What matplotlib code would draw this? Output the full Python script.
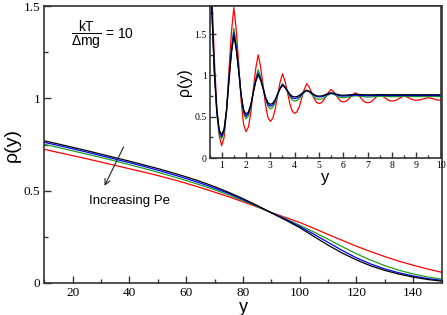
import numpy as np
import matplotlib
matplotlib.use("Agg")
import matplotlib.pyplot as plt
from matplotlib.ticker import MultipleLocator

plt.rcParams['mathtext.fontset'] = 'custom'
plt.rcParams['mathtext.rm'] = 'Liberation Sans'

# main plot: density profile along y
y_main = list(range(10, 151, 5))
rho_red = [.724, .707, .690, .673, .655, .637, .619, .601, .582, .562, .540, .517, .492, .467, .440,
           .412, .382, .355, .328, .296, .263, .231, .199, .170, .143, .118, .096, .076, .058]
rho_green = [.751, .734, .716, .698, .680, .661, .641, .621, .600, .578, .555, .531, .505, .477, .446,
             .415, .381, .348, .313, .276, .237, .197, .158, .124, .094, .069, .049, .033, .021]
rho_blue = [.762, .745, .727, .709, .690, .671, .652, .632, .611, .589, .566, .541, .514, .485, .452,
            .418, .381, .345, .306, .264, .220, .176, .136, .103, .076, .055, .038, .024, .014]
rho_black = [.770, .753, .735, .717, .698, .679, .660, .640, .620, .598, .575, .550, .522, .491, .457,
             .420, .380, .341, .300, .252, .205, .162, .125, .093, .068, .048, .032, .019, .010]

# inset: near-wall structure
y_red = np.round(np.linspace(0.5, 10.0, 96), 1)
ins_red = [2.60, 1.95, 1.20, 0.62, 0.27, 0.15,
           0.25, 0.57, 1.07, 1.52, 1.82,
           1.55, 1.145, 0.695, 0.41, 0.32,
           0.376, 0.553, 0.83, 1.083, 1.25,
           1.105, 0.888, 0.646, 0.493, 0.445,
           0.48, 0.589, 0.761, 0.917, 1.02,
           0.934, 0.804, 0.66, 0.569, 0.54,
           0.562, 0.63, 0.738, 0.835, 0.90,
           0.857, 0.792, 0.72, 0.674, 0.66,
           0.67, 0.703, 0.754, 0.799, 0.83,
           0.803, 0.763, 0.718, 0.689, 0.68,
           0.687, 0.708, 0.74, 0.77, 0.79,
           0.77, 0.736, 0.70, 0.677, 0.67,
           0.676, 0.695, 0.725, 0.752, 0.77,
           0.756, 0.734, 0.71, 0.695, 0.69,
           0.694, 0.705, 0.723, 0.739, 0.75,
           0.741, 0.728, 0.713, 0.703, 0.70,
           0.702, 0.708, 0.717, 0.725, 0.73,
           0.725, 0.717, 0.707, 0.702, 0.70]

y_dark = np.concatenate([np.round(np.linspace(0.5, 6.0, 56), 1),
                         [6.5, 7.0, 7.5, 8.0, 8.5, 9.0, 9.5, 10.0]])
ins_black = [2.40, 1.75, 1.05, 0.58, 0.34, 0.28,
             0.352, 0.58, 0.94, 1.264, 1.48,
             1.309, 1.053, 0.768, 0.587, 0.53,
             0.559, 0.65, 0.794, 0.924, 1.01,
             0.945, 0.848, 0.74, 0.672, 0.65,
             0.664, 0.708, 0.777, 0.839, 0.88,
             0.855, 0.817, 0.775, 0.748, 0.74,
             0.745, 0.76, 0.784, 0.806, 0.82,
             0.807, 0.789, 0.767, 0.754, 0.75,
             0.752, 0.76, 0.772, 0.783, 0.79,
             0.785, 0.776, 0.767, 0.762, 0.76,
             0.772, 0.765, 0.768, 0.766, 0.767, 0.766, 0.767, 0.766]
ins_blue = [2.45, 1.78, 1.05, 0.56, 0.32, 0.26,
            0.336, 0.575, 0.953, 1.293, 1.52,
            1.337, 1.063, 0.759, 0.566, 0.505,
            0.537, 0.636, 0.794, 0.936, 1.03,
            0.957, 0.849, 0.728, 0.651, 0.627,
            0.643, 0.693, 0.772, 0.843, 0.89,
            0.859, 0.814, 0.762, 0.73, 0.72,
            0.726, 0.745, 0.775, 0.802, 0.82,
            0.806, 0.784, 0.76, 0.745, 0.74,
            0.743, 0.751, 0.765, 0.777, 0.785,
            0.779, 0.769, 0.759, 0.752, 0.75,
            0.762, 0.755, 0.759, 0.757, 0.758, 0.757, 0.758, 0.757]
ins_green = [2.50, 1.80, 1.04, 0.53, 0.29, 0.235,
             0.315, 0.569, 0.969, 1.33, 1.57,
             1.373, 1.077, 0.749, 0.541, 0.475,
             0.511, 0.624, 0.802, 0.963, 1.07,
             0.985, 0.856, 0.714, 0.624, 0.595,
             0.613, 0.671, 0.763, 0.845, 0.90,
             0.862, 0.806, 0.743, 0.703, 0.69,
             0.698, 0.723, 0.762, 0.797, 0.82,
             0.800, 0.771, 0.738, 0.717, 0.71,
             0.714, 0.728, 0.749, 0.767, 0.78,
             0.771, 0.758, 0.743, 0.733, 0.73,
             0.755, 0.738, 0.748, 0.743, 0.746, 0.744, 0.745, 0.744]

colors = {'red': '#ff0000', 'green': '#1f9f1f', 'blue': '#0000ff', 'black': '#000000'}
spine_col = '#333333'
serif = 'Liberation Serif'
sans = 'Liberation Sans'


def style_axes(ax, lsize):
    for s in ax.spines.values():
        s.set_color(spine_col)
        s.set_linewidth(1.2)
    ax.tick_params(which='both', direction='in', top=False, right=False,
                   color=spine_col, width=1.0)
    ax.tick_params(which='major', length=5, labelsize=lsize, pad=3)
    ax.tick_params(which='minor', length=3)
    for lab in ax.get_xticklabels() + ax.get_yticklabels():
        lab.set_fontfamily(serif)


fig = plt.figure(figsize=(4.47, 3.15), dpi=100)
ax = fig.add_axes([0.099, 0.1016, 0.889, 0.879])
ax.plot(y_main, rho_red, color=colors['red'], lw=0.9)
ax.plot(y_main, rho_green, color=colors['green'], lw=0.9)
ax.plot(y_main, rho_blue, color=colors['blue'], lw=0.9)
ax.plot(y_main, rho_black, color=colors['black'], lw=0.9)
ax.set_xlim(10, 150)
ax.set_ylim(0, 1.5)
ax.xaxis.set_major_locator(MultipleLocator(20))
ax.xaxis.set_minor_locator(MultipleLocator(10))
ax.set_yticks([0, 0.5, 1, 1.5], ['0', '0.5', '1', '1.5'])
ax.yaxis.set_minor_locator(MultipleLocator(0.25))
style_axes(ax, 9.5)
ax.set_xlabel('y', fontfamily=sans, fontsize=13, labelpad=0)
ax.set_ylabel('ρ(y)', fontfamily=sans, fontsize=14, labelpad=2)

ax.annotate('', xy=(30.8, 0.513), xytext=(38.4, 0.751),
            arrowprops=dict(arrowstyle='->', color='#222222', lw=0.8))
ax.text(25.8, 0.444, 'Increasing Pe', fontfamily=sans, fontsize=9.5,
        va='center', ha='left')
ax.text(19.5, 1.343, r'$\dfrac{\mathrm{kT}}{\mathrm{\Delta mg}}$ = 10',
        fontfamily=sans, fontsize=10, va='center', ha='left')

ins = fig.add_axes([0.4687, 0.498, 0.517, 0.483])
ins.plot(y_red, ins_red, color=colors['red'], lw=0.9)
ins.plot(y_dark, ins_green, color=colors['green'], lw=0.9)
ins.plot(y_dark, ins_blue, color=colors['blue'], lw=0.9)
ins.plot(y_dark, ins_black, color=colors['black'], lw=0.9)
ins.set_xlim(0.5, 10)
ins.set_ylim(0, 1.84)
ins.set_xticks(range(1, 11))
ins.xaxis.set_minor_locator(MultipleLocator(0.5))
ins.set_yticks([0, 0.5, 1, 1.5], ['0', '0.5', '1', '1.5'])
ins.yaxis.set_minor_locator(MultipleLocator(0.25))
style_axes(ins, 7)
ins.tick_params(which='major', length=4, pad=2)
ins.tick_params(which='minor', length=2.5)
ins.set_xlabel('y', fontfamily=sans, fontsize=12, labelpad=0)
ins.set_ylabel('ρ(y)', fontfamily=sans, fontsize=11.5, labelpad=2)

fig.savefig('out.png', dpi=100)
